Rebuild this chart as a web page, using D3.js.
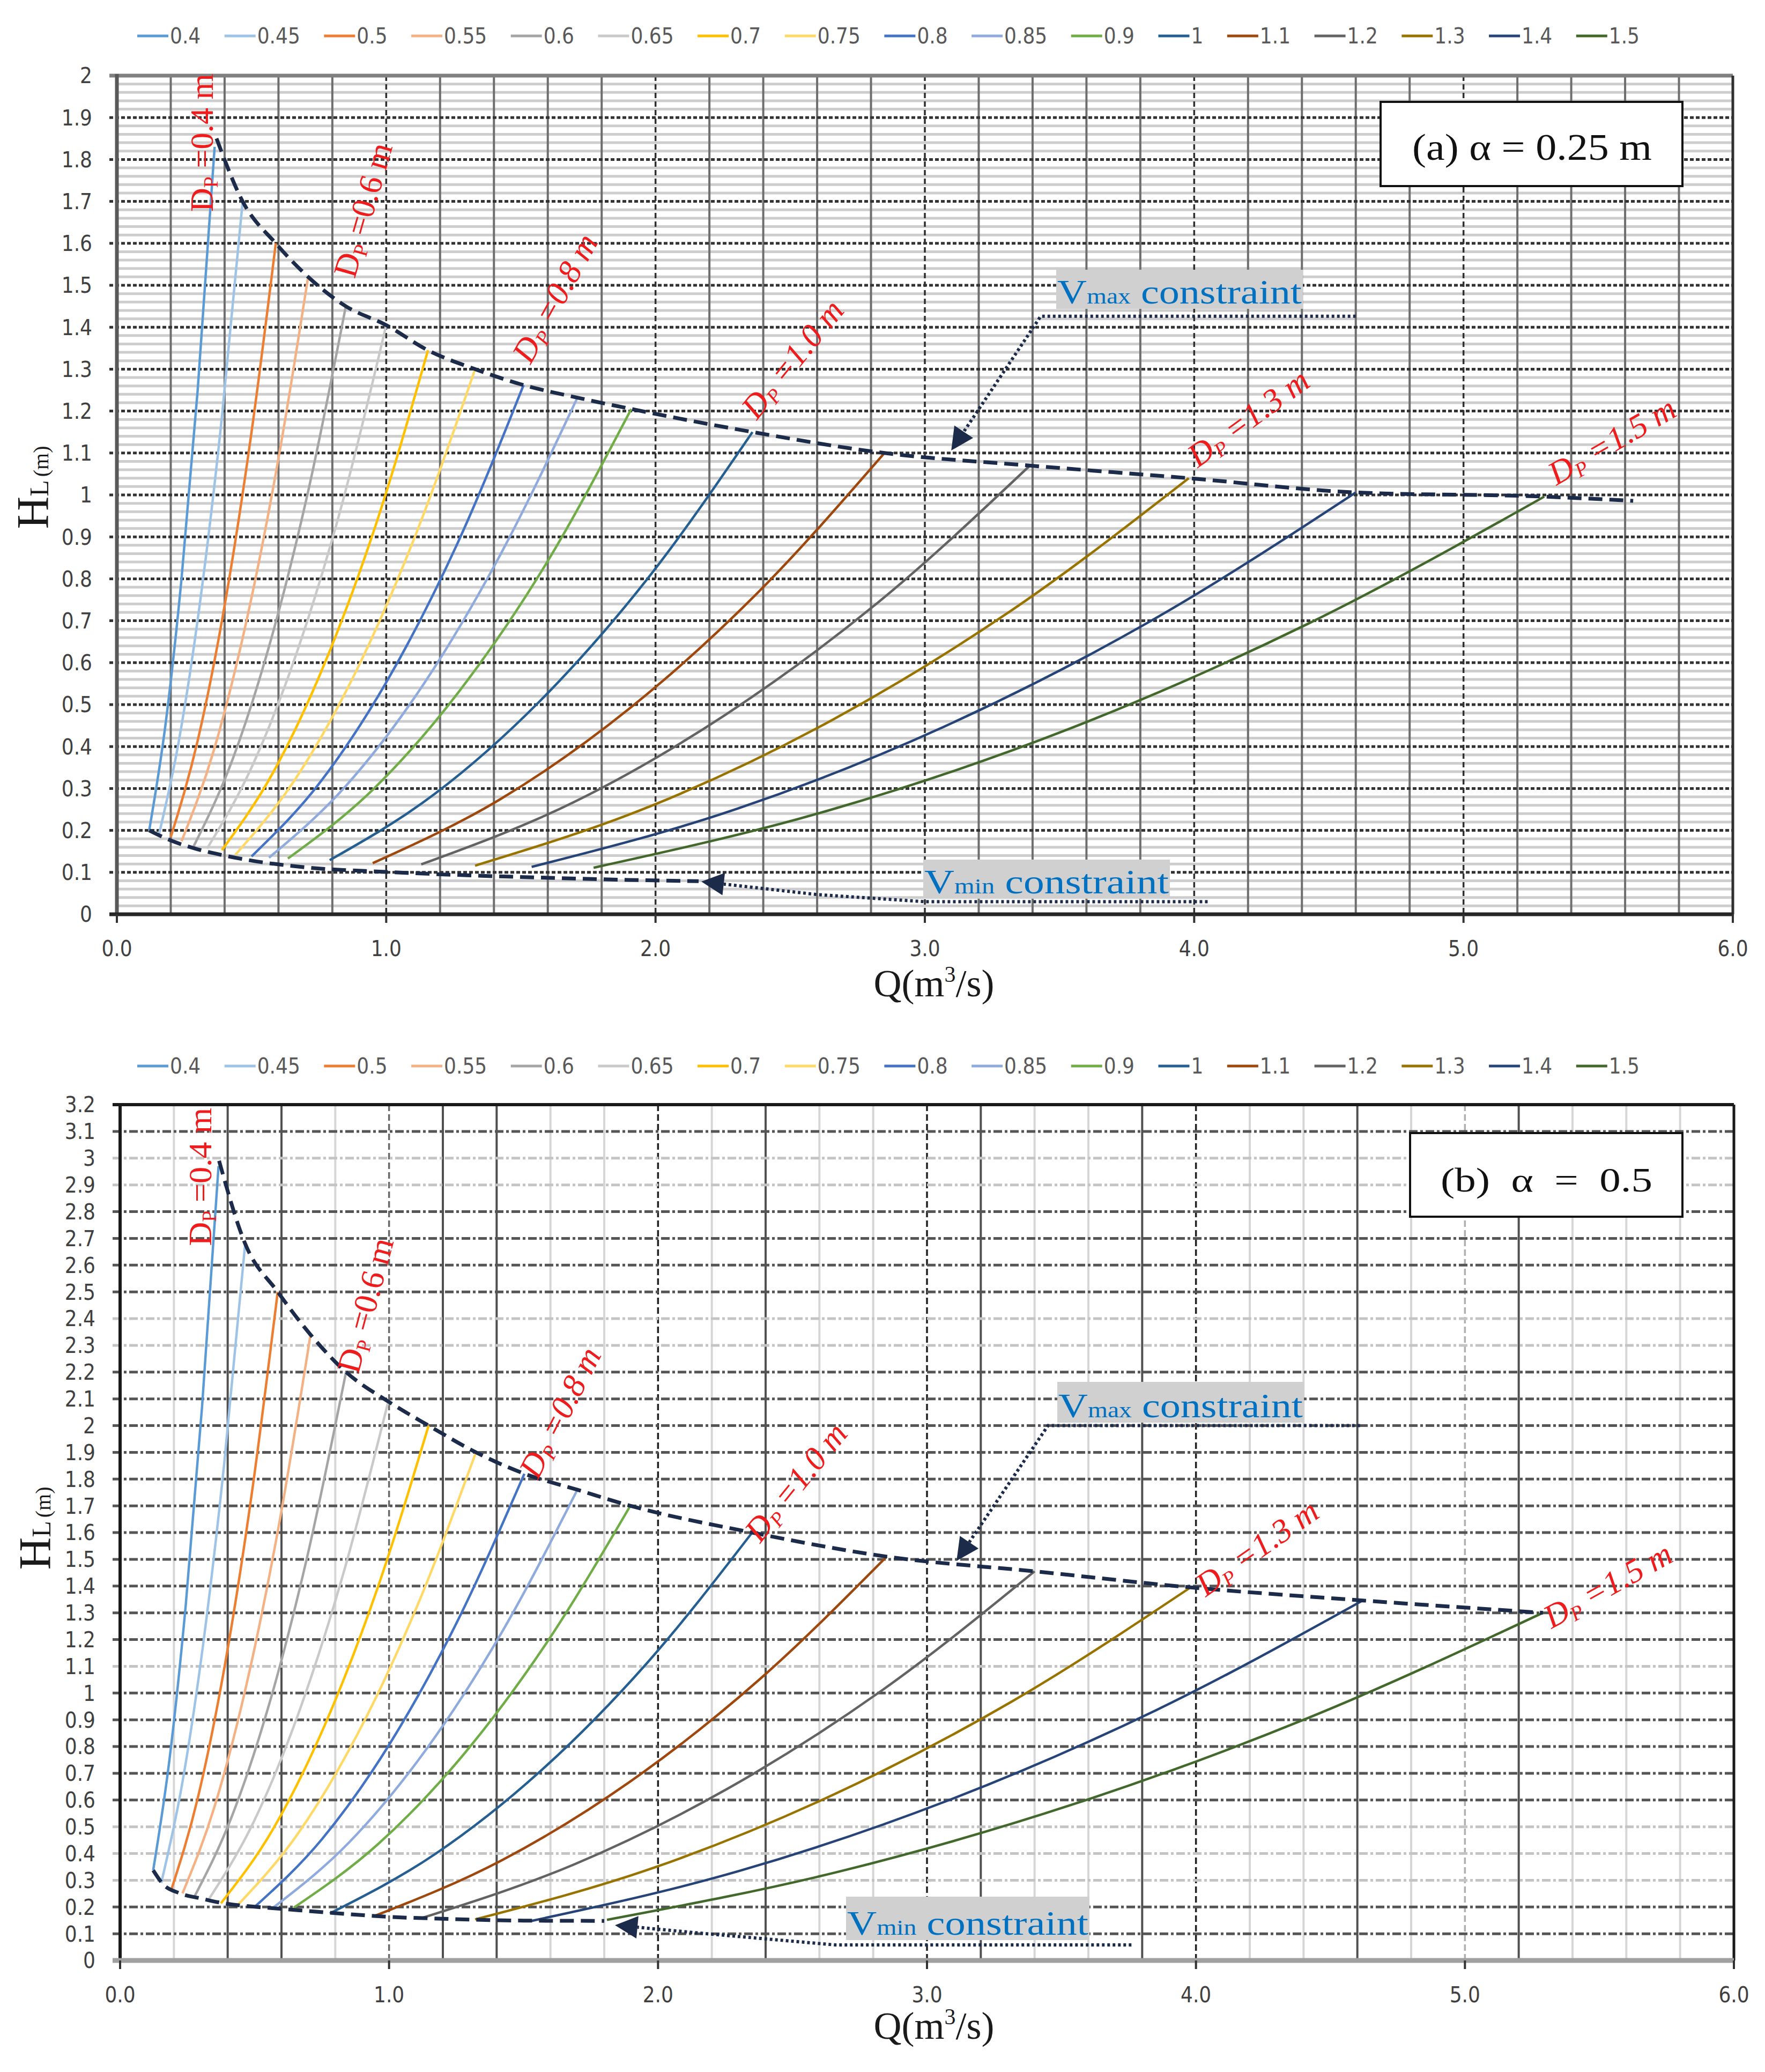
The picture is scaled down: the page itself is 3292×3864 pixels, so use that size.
<!DOCTYPE html>
<html>
<head>
<meta charset="utf-8">
<script src="https://cdn.jsdelivr.net/npm/d3@7"></script>
<style>
  body { margin: 0; background: #fff; }
  svg { display: block; }
</style>
</head>
<body>
<svg id="chart" width="3292" height="3864"></svg>
<script>
// ---- data ----
const diameters = ["0.4","0.45","0.5","0.55","0.6","0.65","0.7","0.75","0.8","0.85","0.9","1","1.1","1.2","1.3","1.4","1.5"];
const colors = ["#5b9bd5","#9dc3e6","#ed7d31","#f4b183","#a5a5a5","#c9c9c9","#ffc000","#ffd966",
                "#4472c4","#8faadc","#70ad47","#255e91","#9e480e","#636363","#997300","#264478","#43682b"];

const xTicks = [0, 1, 2, 3, 4, 5, 6];
const yTicksA = [0,0.1,0.2,0.3,0.4,0.5,0.6,0.7,0.8,0.9,1,1.1,1.2,1.3,1.4,1.5,1.6,1.7,1.8,1.9,2];
const yTicksB = [0,0.1,0.2,0.3,0.4,0.5,0.6,0.7,0.8,0.9,1,1.1,1.2,1.3,1.4,1.5,1.6,1.7,1.8,1.9,2,
                 2.1,2.2,2.3,2.4,2.5,2.6,2.7,2.8,2.9,3,3.1,3.2];

// panel (a) alpha = 0.25 m : Q and HL per diameter
const qA = [
  [0.12,0.18,0.24,0.30,0.363],
  [0.155,0.23,0.31,0.39,0.467],
  [0.2,0.3,0.4,0.5,0.59],
  [0.24,0.36,0.48,0.6,0.71],
  [0.285,0.43,0.57,0.71,0.85],
  [0.335,0.5,0.67,0.83,1.0],
  [0.39,0.58,0.77,0.96,1.155],
  [0.44,0.66,0.89,1.11,1.33],
  [0.5,0.75,1.0,1.26,1.51],
  [0.565,0.85,1.14,1.42,1.71],
  [0.635,0.955,1.27,1.59,1.91],
  [0.79,1.18,1.57,1.97,2.36],
  [0.95,1.425,1.9,2.375,2.85],
  [1.13,1.695,2.26,2.825,3.39],
  [1.33,1.99,2.655,3.32,3.98],
  [1.54,2.305,3.07,3.835,4.6],
  [1.77,2.65,3.535,4.42,5.3]
];
const hA = [
  [0.2,0.45,0.8,1.25,1.83],
  [0.187,0.413,0.75,1.186,1.70],
  [0.184,0.414,0.736,1.15,1.60],
  [0.174,0.391,0.696,1.087,1.52],
  [0.162,0.37,0.65,1.008,1.45],
  [0.157,0.35,0.628,0.964,1.405],
  [0.153,0.338,0.596,0.926,1.345],
  [0.142,0.32,0.582,0.906,1.30],
  [0.138,0.311,0.553,0.878,1.262],
  [0.135,0.306,0.55,0.853,1.232],
  [0.133,0.30,0.531,0.832,1.205],
  [0.129,0.287,0.508,0.80,1.15],
  [0.122,0.275,0.489,0.764,1.10],
  [0.119,0.267,0.476,0.743,1.07],
  [0.116,0.26,0.463,0.724,1.04],
  [0.113,0.252,0.447,0.698,1.006],
  [0.111,0.249,0.442,0.692,0.996]
];
const vmaxA = [[0.37,1.85],[0.467,1.70],[0.59,1.60],[0.71,1.52],[0.85,1.45],[1.0,1.405],[1.155,1.345],
  [1.33,1.30],[1.51,1.262],[1.71,1.232],[1.91,1.205],[2.36,1.15],[2.85,1.10],[3.39,1.07],[3.98,1.04],
  [4.6,1.006],[5.3,0.996],[5.63,0.986]];
const vminA = [[0.12,0.2],[0.2,0.176],[0.3,0.155],[0.4,0.14],[0.5,0.128],[0.7,0.112],[1.0,0.101],
  [1.3,0.093],[1.6,0.087],[1.9,0.082],[2.16,0.079]];

// panel (b) alpha = 0.5
const qB = [
  [0.123,0.184,0.244,0.305,0.366],
  [0.153,0.231,0.309,0.387,0.465],
  [0.19,0.289,0.388,0.487,0.586],
  [0.232,0.351,0.47,0.589,0.708],
  [0.275,0.416,0.558,0.699,0.84],
  [0.33,0.497,0.664,0.83,0.997],
  [0.375,0.568,0.761,0.954,1.147],
  [0.44,0.661,0.882,1.102,1.323],
  [0.5,0.75,1.0,1.25,1.503],
  [0.57,0.853,1.135,1.418,1.70],
  [0.645,0.958,1.271,1.584,1.897],
  [0.78,1.17,1.565,1.958,2.35],
  [0.94,1.418,1.895,2.373,2.85],
  [1.12,1.69,2.26,2.83,3.40],
  [1.32,1.985,2.65,3.315,3.98],
  [1.53,2.303,3.075,3.848,4.62],
  [1.81,2.68,3.55,4.42,5.29]
];
const hB = [
  [0.337,0.755,1.328,2.074,2.97],
  [0.29,0.662,1.184,1.857,2.68],
  [0.263,0.608,1.096,1.727,2.50],
  [0.251,0.575,1.032,1.62,2.34],
  [0.236,0.54,0.971,1.524,2.20],
  [0.229,0.519,0.926,1.447,2.09],
  [0.214,0.49,0.88,1.383,2.0],
  [0.21,0.474,0.845,1.319,1.90],
  [0.20,0.453,0.806,1.26,1.82],
  [0.198,0.443,0.785,1.225,1.76],
  [0.197,0.434,0.763,1.185,1.70],
  [0.176,0.397,0.71,1.111,1.60],
  [0.164,0.374,0.668,1.047,1.51],
  [0.158,0.36,0.643,1.008,1.455],
  [0.1535,0.347,0.619,0.968,1.395],
  [0.148,0.335,0.597,0.934,1.346],
  [0.152,0.334,0.586,0.908,1.30]
];
const vmaxB = [[0.368,2.99],[0.465,2.68],[0.586,2.50],[0.708,2.34],[0.84,2.20],[0.997,2.09],[1.147,2.0],
  [1.323,1.90],[1.503,1.82],[1.70,1.76],[1.897,1.70],[2.35,1.60],[2.85,1.51],[3.40,1.455],[3.98,1.395],
  [4.62,1.346],[5.29,1.30]];
const vminB = [[0.123,0.337],[0.16,0.285],[0.22,0.252],[0.3,0.232],[0.39,0.213],[0.5,0.201],[0.6,0.193],
  [0.8,0.177],[1.0,0.163],[1.2,0.156],[1.5,0.149],[1.8,0.148]];

const dpLabels = ["0.4 m","0.6 m","0.8 m","1.0 m","1.3 m","1.5 m"];

// ---- layout ----
const SANS = "'DejaVu Sans Condensed','Liberation Sans Narrow','DejaVu Sans',sans-serif";
const SERIF = "'Liberation Serif','DejaVu Serif',serif";
const NAVY = "#1c2b4a";

const panels = [
  { left: 218, right: 3232, top: 141, bottom: 1705, yMax: 2, yTicks: yTicksA, q: qA, h: hA,
    vmax: vmaxA, vmin: vminA, style: "a", legendY: 67, qLabelY: 1858, hlX: 62, hlY: 909,
    box: { x: 2575, y: 190, w: 563, h: 157, text: "(a) α = 0.25 m", tx: 2634, tl: 447, by: 298, fs: 70 },
    labelPos: [[0.313,1.84,-90,false],[0.912,1.68,-74,false],[1.625,1.47,-61,true],
               [2.507,1.325,-51,true],[4.2,1.185,-36,true],[5.55,1.13,-30,true]],
    vmaxBox: { x: 1970, y: 503, w: 460, h: 73 },
    vminBox: { x: 1722, y: 1603, w: 460, h: 73 },
    vmaxLeader: [[4.6,1.426],[3.43,1.426]], vmaxTip: [3.098,1.106],
    vminLeader: [[4.05,0.03],[3.0,0.03],[2.6,0.047]], vminTip: [2.17,0.078] },
  { left: 224, right: 3234, top: 2060, bottom: 3656, yMax: 3.2, yTicks: yTicksB, q: qB, h: hB,
    vmax: vmaxB, vmin: vminB, style: "b", legendY: 1988, qLabelY: 3802, hlX: 66, hlY: 2850,
    box: { x: 2630, y: 2113, w: 508, h: 156, text: "(b)  α  =  0.5", tx: 2687, tl: 395, by: 2222, fs: 64 },
    labelPos: [[0.295,2.93,-90,false],[0.91,2.45,-75,false],[1.634,2.05,-63,true],
               [2.511,1.79,-51,true],[4.226,1.545,-35,true],[5.53,1.405,-29,true]],
    vmaxBox: { x: 1972, y: 2577, w: 460, h: 76 },
    vminBox: { x: 1578, y: 3537, w: 454, h: 81 },
    vmaxLeader: [[4.61,2.0],[3.45,2.0]], vmaxTip: [3.11,1.494],
    vminLeader: [[3.76,0.058],[2.66,0.058],[2.18,0.10]], vminTip: [1.84,0.132] }
];

const darkVB = [0.4, 0.6, 1.2, 1.4, 2.4, 3.2, 3.8, 4.6, 5.2];
const lightHB = [3.0, 2.9, 2.4, 2.3, 1.1, 0.5, 0.4, 0.3];

const svg = d3.select("#chart");
svg.append("rect").attr("width", 3292).attr("height", 3864).attr("fill", "#fff");

function hline(g, y, x1, x2, color, w, dash) {
  g.append("line").attr("x1", x1).attr("x2", x2).attr("y1", y).attr("y2", y)
    .attr("stroke", color).attr("stroke-width", w).attr("stroke-dasharray", dash || null);
}
function vline(g, x, y1, y2, color, w, dash) {
  g.append("line").attr("x1", x).attr("x2", x).attr("y1", y1).attr("y2", y2)
    .attr("stroke", color).attr("stroke-width", w).attr("stroke-dasharray", dash || null);
}

function drawArrow(g, x, y, tipPt, leader) {
  const last = leader[leader.length - 1];
  const tx = x(tipPt[0]), ty = y(tipPt[1]);
  const lx = x(last[0]), ly = y(last[1]);
  const len = Math.hypot(tx - lx, ty - ly);
  const ux = (tx - lx) / len, uy = (ty - ly) / len;
  const L = 42, W = 21;
  const bx = tx - ux * L, by = ty - uy * L;
  const pts = leader.map(d => [x(d[0]), y(d[1])]).concat([[bx, by]]);
  g.append("path").attr("d", d3.line()(pts)).attr("fill", "none")
    .attr("stroke", NAVY).attr("stroke-width", 6).attr("stroke-dasharray", "5,5");
  g.append("path")
    .attr("d", `M${tx},${ty}L${bx - uy * W},${by + ux * W}L${bx + uy * W},${by - ux * W}Z`)
    .attr("fill", NAVY);
}

function labelBox(g, b, sub) {
  g.append("rect").attr("x", b.x).attr("y", b.y).attr("width", b.w).attr("height", b.h).attr("fill", "#d0d0d0");
  const t = g.append("text").attr("x", b.x + 2).attr("y", b.y + b.h - 10)
    .attr("font-family", SERIF).attr("fill", "#0070c0")
    .attr("textLength", b.w - 4).attr("lengthAdjust", "spacingAndGlyphs");
  t.append("tspan").attr("font-size", 64).text("V");
  t.append("tspan").attr("font-size", 40).text(sub);
  t.append("tspan").attr("font-size", 64).text(" constraint");
}

panels.forEach(p => {
  const g = svg.append("g");
  const x = d3.scaleLinear().domain([0, 6]).range([p.left, p.right]);
  const y = d3.scaleLinear().domain([0, p.yMax]).range([p.bottom, p.top]);

  // legend
  const lg = g.append("g");
  const items = diameters.map((d, i) => {
    const it = lg.append("g");
    it.append("line").attr("x1", 0).attr("x2", 58).attr("y1", 0).attr("y2", 0)
      .attr("stroke", colors[i]).attr("stroke-width", 5);
    const t = it.append("text").attr("x", 61).attr("y", 14).attr("font-family", SANS)
      .attr("font-size", 40).attr("fill", "#595959").text(d);
    return { it, w: 61 + t.node().getComputedTextLength() };
  });
  const total = 2802;
  const gap = (total - d3.sum(items, d => d.w)) / (items.length - 1);
  let cx = 256;
  items.forEach(d => { d.it.attr("transform", `translate(${cx},${p.legendY})`); cx += d.w + gap; });

  // grid
  const grid = g.append("g");
  if (p.style === "a") {
    for (let i = 1; i < 100; i++) {
      if (i % 5 !== 0) hline(grid, y(i * 0.02), p.left, p.right, "#cdcdcd", 5);
    }
    for (let i = 1; i < 30; i++) {
      if (i % 5 !== 0) vline(grid, x(i / 5), p.top, p.bottom, "#6e6e6e", 4);
    }
    for (let i = 1; i < 6; i++) vline(grid, x(i), p.top, p.bottom, "#303030", 3.5, "10,6");
    p.yTicks.forEach(v => {
      if (v > 0 && v < p.yMax) hline(grid, y(v), p.left - 14, p.right, "#333", 5, "7,4");
    });
    hline(grid, y(p.yMax), p.left - 14, p.right, "#808080", 7);
    vline(grid, p.right, p.top, p.bottom, "#303030", 5);
    vline(grid, p.left, p.top - 3, p.bottom + 3, "#595959", 7);
    hline(grid, p.bottom, p.left - 14, p.right, "#262626", 7);
  } else {
    for (let i = 1; i < 30; i++) {
      if (i % 5 === 0) continue;
      const v = i / 5;
      const dark = darkVB.some(d => Math.abs(d - v) < 1e-6);
      vline(grid, x(v), p.top, p.bottom, dark ? "#505050" : "#d6d6d6", 4);
    }
    [[1, "#6a6a6a"], [2, "#202020"], [3, "#202020"], [4, "#202020"], [5, "#b0b0b0"]].forEach(d =>
      vline(grid, x(d[0]), p.top, p.bottom, d[1], 3.5, "12,6"));
    p.yTicks.forEach(v => {
      if (v <= 0 || v >= p.yMax) return;
      const light = lightHB.some(d => Math.abs(d - v) < 1e-6);
      hline(grid, y(v), p.left - 14, p.right, light ? "#c4c4c4" : "#555", 5, "16,5,5,5");
    });
    hline(grid, y(p.yMax), p.left - 14, p.right, "#1a1a1a", 6);
    vline(grid, p.right, p.top, p.bottom, "#1a1a1a", 5);
    vline(grid, p.left, p.top - 3, p.bottom + 3, "#1a1a1a", 6);
    hline(grid, p.bottom, p.left - 14, p.right, "#a0a0a0", 9);
  }
  xTicks.forEach(v => vline(grid, x(v), p.bottom, p.bottom + 16, "#333", 4));

  // tick labels
  g.append("g").selectAll("text").data(p.yTicks).join("text")
    .attr("x", p.left - 46).attr("y", d => y(d)).attr("dy", "0.36em")
    .attr("text-anchor", "end").attr("font-family", SANS).attr("font-size", 40)
    .attr("fill", "#404040").text(d => String(+d.toFixed(1)));
  g.append("g").selectAll("text").data(xTicks).join("text")
    .attr("x", d => x(d)).attr("y", p.bottom + 78).attr("text-anchor", "middle")
    .attr("font-family", SANS).attr("font-size", 40).attr("fill", "#404040")
    .text(d => d.toFixed(1));

  // axis titles
  const qt = g.append("text").attr("x", 1742).attr("y", p.qLabelY).attr("text-anchor", "middle")
    .attr("font-family", SERIF).attr("font-size", 72).attr("fill", "#1a1a1a");
  qt.append("tspan").text("Q(m");
  qt.append("tspan").attr("font-size", 42).attr("dy", -27).text("3");
  qt.append("tspan").attr("dy", 27).text("/s)");
  const ht = g.append("text").attr("transform", `translate(${p.hlX + 28},${p.hlY}) rotate(-90)`)
    .attr("text-anchor", "middle").attr("font-family", SERIF).attr("fill", "#1a1a1a");
  ht.append("tspan").attr("font-size", 84).text("H");
  ht.append("tspan").attr("font-size", 50).text("L");
  ht.append("tspan").attr("font-size", 40).attr("dx", 6).text("(m)");

  // curves per diameter
  const line = d3.line().x(d => x(d[0])).y(d => y(d[1])).curve(d3.curveMonotoneX);
  g.append("g").selectAll("path").data(diameters).join("path")
    .attr("d", (d, i) => line(p.q[i].map((q, j) => [q, p.h[i][j]])))
    .attr("fill", "none").attr("stroke", (d, i) => colors[i]).attr("stroke-width", 4.5);

  // constraint envelopes
  [p.vmax, p.vmin].forEach(c => {
    g.append("path").attr("d", line(c)).attr("fill", "none").attr("stroke", NAVY)
      .attr("stroke-width", 7).attr("stroke-dasharray", "26,13");
  });

  // leaders with arrowheads
  drawArrow(g, x, y, p.vmaxTip, p.vmaxLeader);
  drawArrow(g, x, y, p.vminTip, p.vminLeader);
  labelBox(g, p.vmaxBox, "max");
  labelBox(g, p.vminBox, "min");

  // diameter labels
  p.labelPos.forEach((lp, i) => {
    const t = g.append("text")
      .attr("transform", `translate(${x(lp[0])},${y(lp[1])}) rotate(${lp[2]})`)
      .attr("text-anchor", "middle").attr("dy", "0.35em")
      .attr("font-family", SERIF).attr("font-size", 62).attr("fill", "#ee1c1c")
      .attr("font-style", lp[3] ? "italic" : null);
    t.append("tspan").text("D");
    t.append("tspan").attr("font-size", 38).attr("dy", 9).text("P");
    t.append("tspan").attr("dy", -9).text(" =" + dpLabels[i]);
  });

  // panel title box
  const b = p.box;
  g.append("rect").attr("x", b.x).attr("y", b.y).attr("width", b.w).attr("height", b.h)
    .attr("fill", "#fff").attr("stroke", "#111").attr("stroke-width", 4);
  g.append("text").attr("x", b.tx).attr("y", b.by).attr("font-family", SERIF)
    .attr("font-size", b.fs).attr("fill", "#111").attr("xml:space", "preserve")
    .style("white-space", "pre")
    .attr("textLength", b.tl).attr("lengthAdjust", "spacingAndGlyphs").text(b.text);
});
</script>
</body>
</html>
